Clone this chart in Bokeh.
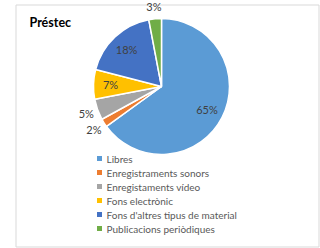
import numpy as np
from bokeh.plotting import figure
from bokeh.models import Range1d, ColumnDataSource
from bokeh.core.properties import value
from bokeh.embed import file_html
from bokeh.resources import INLINE

title = "Préstec"
categories = ["Libres", "Enregistraments sonors", "Enregistaments vídeo",
              "Fons electrònic", "Fons d'altres tipus de material", "Publicacions periòdiques"]
values = [65, 2, 5, 7, 18, 3]
colors = ["#5B9BD5", "#ED7D31", "#A5A5A5", "#FFC000", "#4472C4", "#70AD47"]

p = figure(width=320, height=248, output_backend="svg", toolbar_location=None,
           x_range=Range1d(0, 320), y_range=Range1d(-248, 0), min_border=0)
p.axis.visible = False
p.grid.visible = False
p.outline_line_color = None
p.background_fill_color = "white"
p.border_fill_color = "white"

# chart border
p.quad(left=[15.5], right=[318.5], top=[-4.5], bottom=[-246.5], fill_color=None,
       line_color="#d9d9d9", line_width=1)

frac = np.array(values, dtype=float) / sum(values)
cum = np.cumsum(frac)
before = cum - frac
start = np.pi / 2 - cum * 2 * np.pi
end = np.pi / 2 - before * 2 * np.pi
cx, cy, R = 161, -86, 68

src = ColumnDataSource(dict(start=start, end=end, color=colors))
p.wedge(x=cx, y=cy, radius=R, start_angle="start", end_angle="end",
        fill_color="color", line_color="white", line_width=1.5, source=src)

mid = (start + end) / 2
r = np.where(frac < 0.06, 80, 51)
lx = cx + r * np.cos(mid)
ly = cy + r * np.sin(mid)
p.text(x=lx, y=ly, text=[f"{v}%" for v in values], text_align="center",
       text_baseline="middle", text_font=value("Lato"), text_font_size="11px",
       text_color="#404040")

p.text(x=[29], y=[-22], text=[title], text_align="left", text_baseline="middle",
       text_font=value("Lato"), text_font_size="12.5px", text_font_style="bold",
       text_color="#000000")

ly_leg = -(158 + 14 * np.arange(len(categories)))
p.scatter(x=[99] * len(categories), y=ly_leg, marker="square", size=5,
          fill_color=colors, line_color=None)
p.text(x=[106] * len(categories), y=ly_leg, text=categories, text_align="left",
       text_baseline="middle", text_font=value("Lato"), text_font_size="10px",
       text_color="#595959")

open("out.html", "w").write(file_html(p, INLINE))
